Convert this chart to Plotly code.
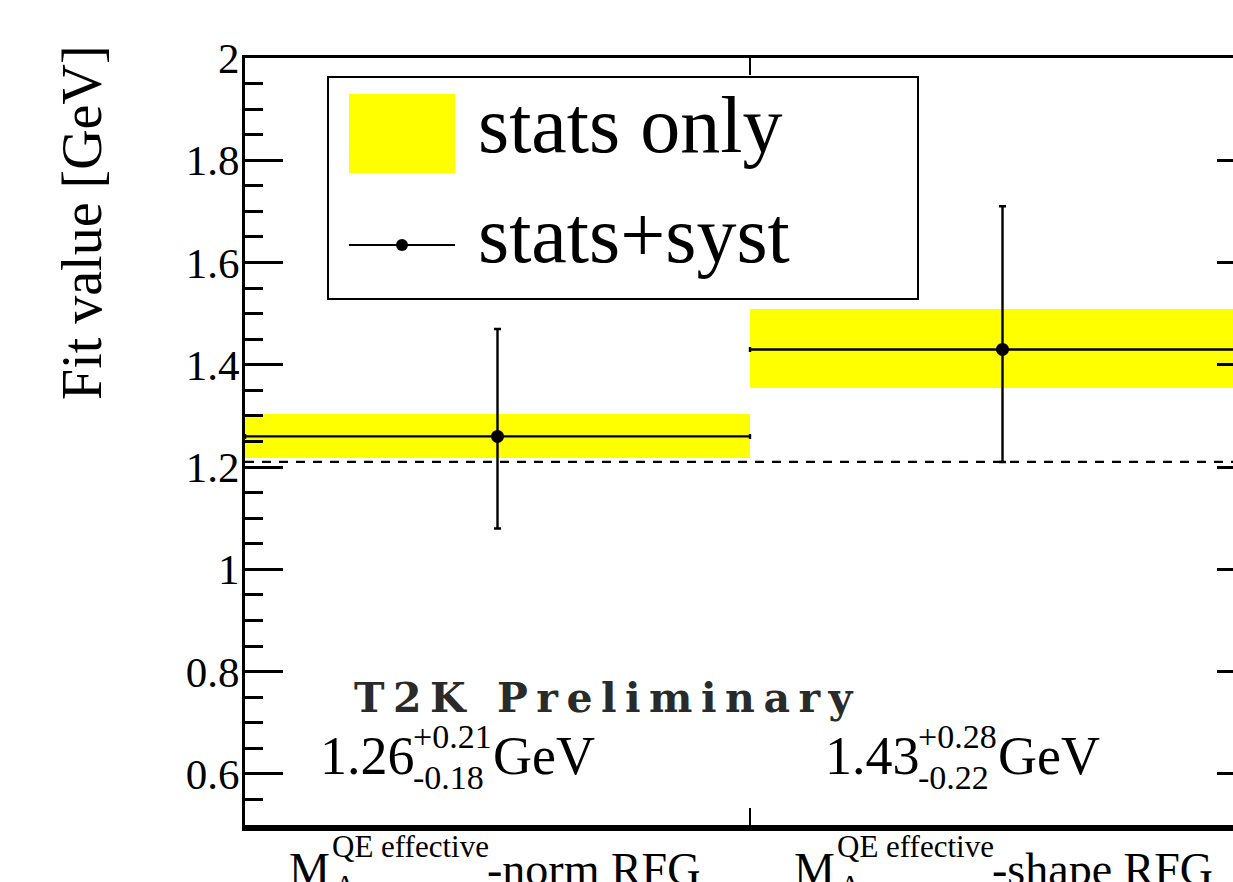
import plotly.graph_objects as go
import numpy as np

# ---------------- data ----------------
CATEGORIES = ["-norm RFG", "-shape RFG"]
BIN_CENTERS = [0.5, 1.5]
BIN_HALF = [0.5, 0.5]
FIT = [1.26, 1.43]
ERR_UP = [0.21, 0.28]          # stats+syst
ERR_DN = [0.18, 0.22]
STAT_UP = [0.044, 0.080]       # stats only band
STAT_DN = [0.043, 0.075]
NOMINAL = 1.21
Y_TICKS = [0.6, 0.8, 1.0, 1.2, 1.4, 1.6, 1.8, 2.0]
Y_TICK_TEXT = ["0.6", "0.8", "1", "1.2", "1.4", "1.6", "1.8", "2"]
Y_RANGE = [0.5, 2.0]
X_RANGE = [0.0, 1.9564]
BIN_EDGE = [1.0]

# ---------------- layout geometry (pixels) ----------------
W, H = 1233, 882
PL, PR, PT, PB = 245, 1233, 58, 825
SERIF = "Liberation Serif"
YELLOW = "#ffff00"


def fx(px):
    return (px - PL) / (PR - PL)


def fy(py):
    return (PB - py) / (PB - PT)


def ann(text, x, xref, base_px, size, xanchor="left", xshift=0,
        family=SERIF, color="black", textangle=0):
    center = base_px - 0.3375 * size
    return dict(text=text, x=x, xref=xref, y=fy(center), yref="paper",
                xanchor=xanchor, yanchor="middle", xshift=xshift,
                showarrow=False, textangle=textangle,
                font=dict(family=family, size=size, color=color))


fig = go.Figure()

# stats-only yellow bands
fig.add_trace(go.Bar(
    x=BIN_CENTERS,
    y=[u + d for u, d in zip(STAT_UP, STAT_DN)],
    base=[f - d for f, d in zip(FIT, STAT_DN)],
    width=[2 * h for h in BIN_HALF],
    marker=dict(color=YELLOW, line=dict(width=0)),
    showlegend=False, hoverinfo="skip",
))

# stats+syst points with error bars
fig.add_trace(go.Scatter(
    x=BIN_CENTERS, y=FIT, mode="markers",
    marker=dict(color="black", size=13),
    error_y=dict(type="data", symmetric=False, array=ERR_UP, arrayminus=ERR_DN,
                 color="black", thickness=2.4, width=3.5),
    error_x=dict(type="data", array=BIN_HALF, color="black", thickness=2.4, width=2.5),
    showlegend=False, hoverinfo="skip",
))

# invisible traces to activate the auxiliary (top / right) axes
fig.add_trace(go.Scatter(x=BIN_CENTERS, y=FIT, xaxis="x2", yaxis="y", mode="markers",
                         marker=dict(opacity=0), showlegend=False, hoverinfo="skip"))
fig.add_trace(go.Scatter(x=BIN_CENTERS, y=FIT, xaxis="x", yaxis="y2", mode="markers",
                         marker=dict(opacity=0), showlegend=False, hoverinfo="skip"))

shapes = []
# nominal dashed line
shapes.append(dict(type="line", xref="paper", yref="y", x0=0, x1=1, y0=NOMINAL, y1=NOMINAL,
                   line=dict(color="black", width=2.2, dash="9px,8px"), layer="above"))

# legend box
LEG = dict(x0=328, x1=918, y0=77, y1=299)
shapes.append(dict(type="rect", xref="paper", yref="paper",
                   x0=fx(LEG["x0"]), x1=fx(LEG["x1"]), y0=fy(LEG["y1"]), y1=fy(LEG["y0"]),
                   line=dict(color="black", width=2), fillcolor="white"))
shapes.append(dict(type="rect", xref="paper", yref="paper",
                   x0=fx(349), x1=fx(455), y0=fy(173), y1=fy(94),
                   line=dict(width=0), fillcolor=YELLOW))
shapes.append(dict(type="line", xref="paper", yref="paper",
                   x0=fx(349), x1=fx(455), y0=fy(245), y1=fy(245),
                   line=dict(color="black", width=2.2)))
shapes.append(dict(type="circle", xref="paper", yref="paper", xsizemode="pixel", ysizemode="pixel",
                   xanchor=fx(402), yanchor=fy(245), x0=-6, x1=6, y0=-6, y1=6,
                   fillcolor="black", line=dict(color="black", width=0)))

annotations = []
annotations.append(ann("stats only", fx(476), "paper", 152, 80))
annotations.append(ann("stats+syst", fx(476), "paper", 262, 80))

# y-axis title
annotations.append(dict(text="Fit value [GeV]", x=fx(82), xref="paper", y=fy(223), yref="paper",
                        xanchor="center", yanchor="middle", textangle=-90, showarrow=False,
                        font=dict(family=SERIF, size=56, color="black")))

# T2K Preliminary
annotations.append(ann('<span style="letter-spacing:8.5px">T2K Preliminary</span>', fx(352), "paper",
                       712, 41, family="DejaVu Serif", color="#2a2a2a"))
annotations[-1]["font"]["weight"] = "bold"

# value labels and category labels
for c, f, u, d, cat in zip(BIN_CENTERS, FIT, ERR_UP, ERR_DN, CATEGORIES):
    annotations.append(ann(f"{f:.2f}", c, "x", 774, 54, xshift=-180))
    annotations.append(ann(f"+{u:.2f}", c, "x", 748, 34, xshift=-87))
    annotations.append(ann(f"-{d:.2f}", c, "x", 789, 34, xshift=-87))
    annotations.append(ann("GeV", c, "x", 774, 54, xshift=-7))
    annotations.append(ann("M", c, "x", 885, 46, xshift=-211))
    annotations.append(ann("QE effective", c, "x", 857, 31, xshift=-168))
    annotations.append(ann("A", c, "x", 897, 31, xshift=-166))
    annotations.append(ann(cat, c, "x", 885, 46, xshift=-13))

fig.update_layout(
    width=W, height=H,
    margin=dict(l=PL, r=W - PR, t=PT, b=H - PB, pad=0),
    paper_bgcolor="white", plot_bgcolor="white",
    showlegend=False, bargap=0,
    xaxis=dict(range=X_RANGE, showgrid=False, zeroline=False,
               showline=True, linecolor="black", linewidth=6,
               tickmode="array", tickvals=BIN_EDGE, ticktext=[""],
               ticks="inside", ticklen=17, tickwidth=2, tickcolor="black"),
    xaxis2=dict(range=X_RANGE, overlaying="x", side="top", anchor="y",
                showgrid=False, zeroline=False,
                showline=True, linecolor="black", linewidth=3,
                tickmode="array", tickvals=BIN_EDGE, ticktext=[""],
                ticks="inside", ticklen=17, tickwidth=2, tickcolor="black"),
    yaxis=dict(range=Y_RANGE, showgrid=False, zeroline=False,
               showline=True, linecolor="black", linewidth=3,
               tickmode="array", tickvals=Y_TICKS, ticktext=Y_TICK_TEXT,
               ticks="inside", ticklen=38, tickwidth=3, tickcolor="black",
               ticklabelstandoff=-6,
               tickfont=dict(family=SERIF, size=43, color="black"),
               minor=dict(tickmode="linear", tick0=0, dtick=0.05, ticks="inside",
                          ticklen=18, tickwidth=3, tickcolor="black", showgrid=False)),
    yaxis2=dict(range=Y_RANGE, overlaying="y", side="right", anchor="x",
                showgrid=False, zeroline=False, showline=False,
                tickmode="array", tickvals=Y_TICKS, ticktext=[""] * len(Y_TICKS),
                ticks="inside", ticklen=16, tickwidth=3, tickcolor="black"),
    shapes=shapes,
    annotations=annotations,
)

fig.write_html("out.html")
